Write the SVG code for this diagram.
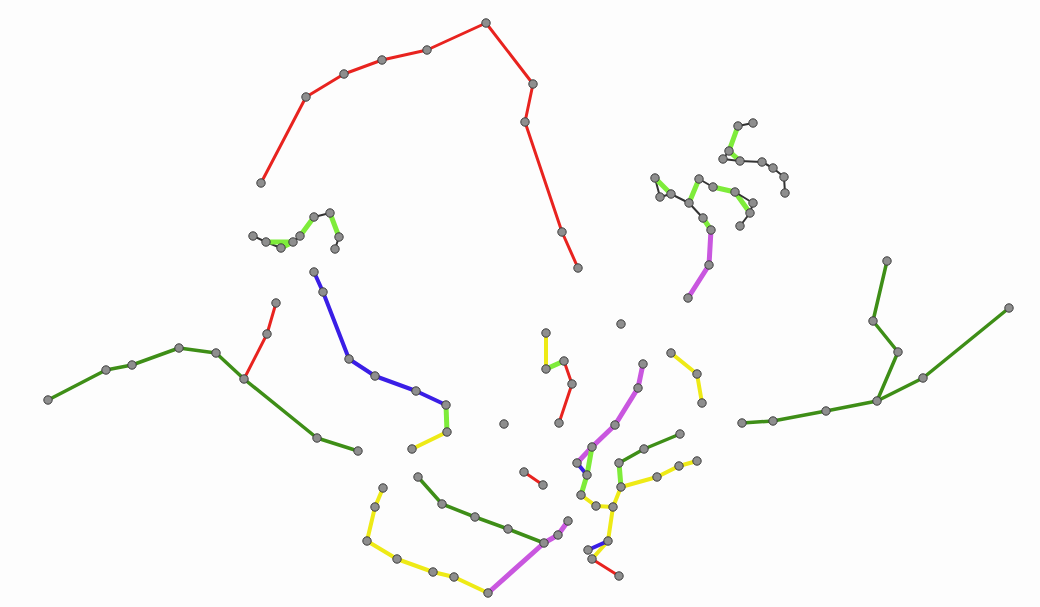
<svg xmlns="http://www.w3.org/2000/svg" width="1040" height="607" viewBox="0 0 1040 607">
<style>
.l{fill:none;stroke-linecap:round;stroke-linejoin:round}
.r{stroke:#e8231f;stroke-width:3}
.g{stroke:#3e8e17;stroke-width:3.5}
.b{stroke:#3a1ee6;stroke-width:4}
.y{stroke:#eeea16;stroke-width:4}
.m{stroke:#c957df;stroke-width:5}
.lg{stroke:#7eec3a;stroke-width:5}
.k{stroke:#333;stroke-width:2}
.d circle{fill:#8e8e8e;stroke:#3c3c3c;stroke-width:1;r:4.2}
</style>
<rect width="1040" height="607" fill="#fdfdfd"/>
<g id="connectors" class="l">
<polyline class="r" points="261,183 306,97 344,74 382,60 427,50 486,23 533,84 525,122 562,232 578,268"/>
<polyline class="g" points="887,261 873,321 898,352 877,401"/>
<polyline class="g" points="1009,308 923,378 877,401 826,411 773,421 742,423"/>
<polyline class="g" points="48,400 106,370 132,365 179,348 216,353 244,379 317,438 358,451"/>
<polyline class="r" points="244,379 267,334 276,303"/>
<polyline class="b" points="314,272 323,292 349,359 375,376 416,391 446,405"/>
<polyline class="lg" points="446,405 447,432"/>
<polyline class="y" points="447,432 412,449"/>
<polyline class="k" points="253,236 266,242 281,248"/>
<polyline class="lg" points="266,242 293,242 281,248"/>
<polyline class="k" points="293,242 300,236"/>
<polyline class="lg" points="300,236 314,217"/>
<polyline class="k" points="314,217 330,213"/>
<polyline class="lg" points="330,213 339,237"/>
<polyline class="k" points="339,237 335,249"/>
<polyline class="k" points="753,123 738,126"/>
<polyline class="lg" points="738,126 729,151 740,161"/>
<polyline class="k" points="729,151 723,159 740,161 762,162 773,168 784,177 785,193"/>
<polyline class="k" points="671,194 655,178 660,197 671,194 689,203"/>
<polyline class="lg" points="655,178 671,194"/>
<polyline class="lg" points="689,203 699,179"/>
<polyline class="k" points="699,179 713,187"/>
<polyline class="lg" points="713,187 735,192 750,213"/>
<polyline class="k" points="735,192 753,203 750,213 740,226"/>
<polyline class="k" points="689,203 703,218"/>
<polyline class="lg" points="703,218 711,230"/>
<polyline class="m" points="711,230 709,265 688,298"/>
<polyline class="y" points="546,333 546,369"/>
<polyline class="lg" points="546,369 564,361"/>
<polyline class="r" points="564,361 572,384 559,423"/>
<polyline class="y" points="671,353 697,374 702,403"/>
<polyline class="m" points="643,364 638,388 615,425 592,447 577,463"/>
<polyline class="b" points="577,463 587,475"/>
<polyline class="lg" points="592,447 587,475 581,495"/>
<polyline class="g" points="680,434 644,449 619,463"/>
<polyline class="lg" points="619,463 621,487"/>
<polyline class="y" points="621,487 657,477 679,466 697,461"/>
<polyline class="r" points="524,472 543,485"/>
<polyline class="y" points="581,495 596,506 613,507"/>
<polyline class="y" points="621,487 613,507 608,541 592,559"/>
<polyline class="b" points="608,541 588,550"/>
<polyline class="r" points="592,559 619,576"/>
<polyline class="y" points="383,488 375,507 367,541 397,559 433,572 454,577 488,593"/>
<polyline class="m" points="488,593 544,543 558,535 568,521"/>
<polyline class="g" points="418,477 442,504 475,517 508,529 544,543"/>
</g>
<g id="nodes" class="d">
<circle cx="261" cy="183"/><circle cx="306" cy="97"/><circle cx="344" cy="74"/><circle cx="382" cy="60"/><circle cx="427" cy="50"/><circle cx="486" cy="23"/><circle cx="533" cy="84"/><circle cx="525" cy="122"/><circle cx="562" cy="232"/><circle cx="578" cy="268"/>
<circle cx="887" cy="261"/><circle cx="873" cy="321"/><circle cx="898" cy="352"/><circle cx="877" cy="401"/><circle cx="923" cy="378"/><circle cx="1009" cy="308"/><circle cx="826" cy="411"/><circle cx="773" cy="421"/><circle cx="742" cy="423"/>
<circle cx="48" cy="400"/><circle cx="106" cy="370"/><circle cx="132" cy="365"/><circle cx="179" cy="348"/><circle cx="216" cy="353"/><circle cx="244" cy="379"/><circle cx="317" cy="438"/><circle cx="358" cy="451"/><circle cx="267" cy="334"/><circle cx="276" cy="303"/>
<circle cx="314" cy="272"/><circle cx="323" cy="292"/><circle cx="349" cy="359"/><circle cx="375" cy="376"/><circle cx="416" cy="391"/><circle cx="446" cy="405"/><circle cx="447" cy="432"/><circle cx="412" cy="449"/>
<circle cx="253" cy="236"/><circle cx="266" cy="242"/><circle cx="281" cy="248"/><circle cx="293" cy="242"/><circle cx="300" cy="236"/><circle cx="314" cy="217"/><circle cx="330" cy="213"/><circle cx="339" cy="237"/><circle cx="335" cy="249"/>
<circle cx="753" cy="123"/><circle cx="738" cy="126"/><circle cx="729" cy="151"/><circle cx="723" cy="159"/><circle cx="740" cy="161"/><circle cx="762" cy="162"/><circle cx="773" cy="168"/><circle cx="784" cy="177"/><circle cx="785" cy="193"/>
<circle cx="655" cy="178"/><circle cx="660" cy="197"/><circle cx="671" cy="194"/><circle cx="689" cy="203"/><circle cx="699" cy="179"/><circle cx="713" cy="187"/><circle cx="735" cy="192"/><circle cx="753" cy="203"/><circle cx="750" cy="213"/><circle cx="740" cy="226"/><circle cx="703" cy="218"/><circle cx="711" cy="230"/><circle cx="709" cy="265"/><circle cx="688" cy="298"/>
<circle cx="621" cy="324"/><circle cx="504" cy="424"/>
<circle cx="546" cy="333"/><circle cx="546" cy="369"/><circle cx="564" cy="361"/><circle cx="572" cy="384"/><circle cx="559" cy="423"/>
<circle cx="671" cy="353"/><circle cx="697" cy="374"/><circle cx="702" cy="403"/>
<circle cx="643" cy="364"/><circle cx="638" cy="388"/><circle cx="615" cy="425"/><circle cx="592" cy="447"/><circle cx="577" cy="463"/><circle cx="587" cy="475"/><circle cx="581" cy="495"/>
<circle cx="680" cy="434"/><circle cx="644" cy="449"/><circle cx="619" cy="463"/><circle cx="621" cy="487"/><circle cx="657" cy="477"/><circle cx="679" cy="466"/><circle cx="697" cy="461"/>
<circle cx="524" cy="472"/><circle cx="543" cy="485"/>
<circle cx="596" cy="506"/><circle cx="613" cy="507"/><circle cx="608" cy="541"/><circle cx="588" cy="550"/><circle cx="592" cy="559"/><circle cx="619" cy="576"/>
<circle cx="383" cy="488"/><circle cx="375" cy="507"/><circle cx="367" cy="541"/><circle cx="397" cy="559"/><circle cx="433" cy="572"/><circle cx="454" cy="577"/><circle cx="488" cy="593"/>
<circle cx="544" cy="543"/><circle cx="558" cy="535"/><circle cx="568" cy="521"/>
<circle cx="418" cy="477"/><circle cx="442" cy="504"/><circle cx="475" cy="517"/><circle cx="508" cy="529"/>
</g>
</svg>
